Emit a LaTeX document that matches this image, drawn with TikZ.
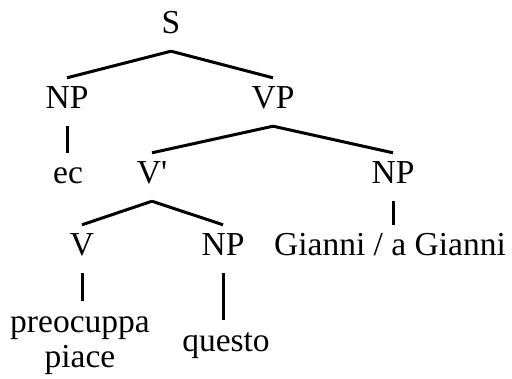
\documentclass[tikz,border=0pt]{standalone}
\usepackage{fontspec}
\setmainfont{Liberation Serif}
\begin{document}
\begin{tikzpicture}[x=1pt,y=-1pt,
  cat/.style={anchor=base,inner xsep=2pt,inner ysep=9pt,text height=21pt,text depth=9pt,font=\fontsize{33.5}{35}\selectfont},
  leaf/.style={anchor=north,inner xsep=2pt,inner ysep=9pt,align=center,font=\fontsize{33.5}{35}\selectfont},
  edge/.style={line width=3pt}]
\useasboundingbox (0,0) rectangle (512,378);
\node[cat] (S) at (171,33) {S};
\node[cat] (NPa) at (67,108) {NP};
\node[cat] (VP) at (273,108) {VP};
\node[cat] (ec) at (68,183) {ec};
\node[cat] (Vb) at (152,183) {V\textquotesingle};
\node[cat] (NPb) at (393,183) {NP};
\node[cat] (V) at (82,255) {V};
\node[cat] (NPc) at (223,255) {NP};
\node[cat] (G) at (390,255) {Gianni / a Gianni};
\node[leaf] (pre) at (80,301) {\vphantom{P}preocuppa\\piace};
\node[leaf] (q) at (226,320) {\vphantom{P}questo};
\draw[edge] (S.south) -- (NPa.north);
\draw[edge] (S.south) -- (VP.north);
\draw[edge] (NPa.south) -- (NPa.south |- ec.north);
\draw[edge] (VP.south) -- (Vb.north);
\draw[edge] (VP.south) -- (NPb.north);
\draw[edge] (Vb.south) -- (V.north);
\draw[edge] (Vb.south) -- (NPc.north);
\draw[edge] (NPb.south) -- (NPb.south |- G.north);
\draw[edge] (V.south) -- (V.south |- pre.north);
\draw[edge] (NPc.south) -- (NPc.south |- q.north);
\end{tikzpicture}
\end{document}
